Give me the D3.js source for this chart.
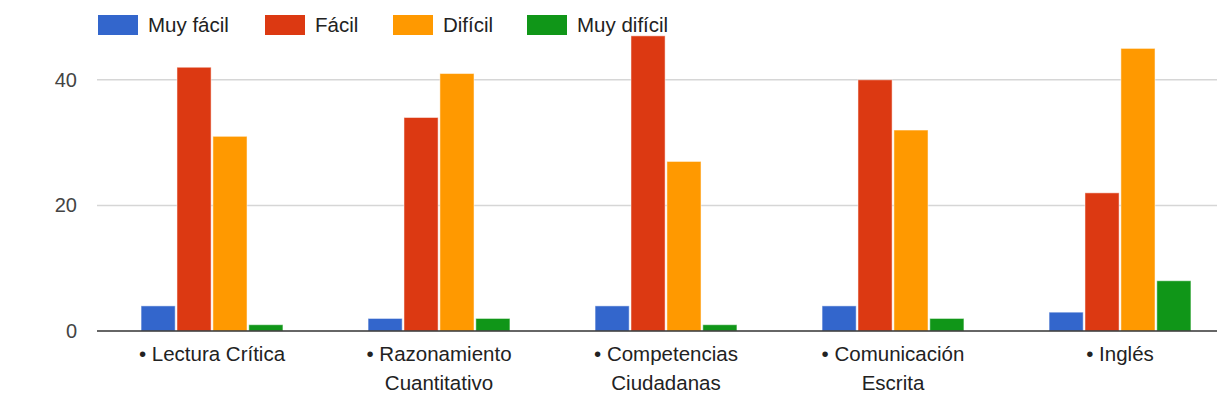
<!DOCTYPE html>
<html><head><meta charset="utf-8">
<script src="https://cdn.jsdelivr.net/npm/d3@7"></script>
<style>body{margin:0;background:#fff}svg{display:block;font-family:"Liberation Sans",Arial,sans-serif}</style>
</head><body>
<svg id="c" width="1217" height="412"></svg>
<script>
const categories = ["• Lectura Crítica", "• Razonamiento Cuantitativo", "• Competencias Ciudadanas", "• Comunicación Escrita", "• Inglés"];
const seriesNames = ["Muy fácil", "Fácil", "Difícil", "Muy difícil"];
const seriesColors = ["#3366cc", "#dc3912", "#ff9900", "#109618"];
const muyFacil = [4, 2, 4, 4, 3];
const facil = [42, 34, 47, 40, 22];
const dificil = [31, 41, 27, 32, 45];
const muyDificil = [1, 2, 1, 2, 8];
const yTicks = [0, 20, 40];

const seriesValues = [muyFacil, facil, dificil, muyDificil];
const svg = d3.select("#c");
const W = 1217;
const y = d3.scaleLinear().domain([0, 50]).range([331, 17]);
const x = d3.scaleBand().domain(categories).range([98.5, 1233.5]).paddingInner(0.375).paddingOuter(0.1875);
const xs = d3.scaleBand().domain(seriesNames).range([0, x.bandwidth()]).paddingInner(0.05);

// gridlines
svg.append("g").selectAll("line").data(yTicks.filter(t => t !== 0)).join("line")
  .attr("x1", 97).attr("x2", W).attr("y1", d => y(d)).attr("y2", d => y(d))
  .attr("stroke", "#d6d6d6").attr("stroke-width", 1.5);

// y labels
svg.append("g").selectAll("text").data(yTicks).join("text")
  .attr("x", 77).attr("y", d => y(d)).attr("dy", "0.35em").attr("text-anchor", "end")
  .attr("font-size", 20).attr("fill", "#444").text(d => d);

// bars
const groups = svg.append("g").selectAll("g").data(categories).join("g")
  .attr("transform", d => `translate(${x(d)},0)`);
groups.selectAll("rect").data((d, i) => seriesNames.map((s, j) => ({s, j, v: seriesValues[j][i]}))).join("rect")
  .attr("x", d => xs(d.s)).attr("width", xs.bandwidth())
  .attr("y", d => y(d.v)).attr("height", d => y(0) - y(d.v))
  .attr("fill", d => seriesColors[d.j]).attr("stroke", "#fff").attr("stroke-opacity", 0.5).attr("stroke-width", 1);

// baseline
svg.append("line").attr("x1", 97).attr("x2", W).attr("y1", y(0)).attr("y2", y(0))
  .attr("stroke", "#333").attr("stroke-width", 1.5);

// x labels with wrapping
const maxW = 180;
const lab = svg.append("g");
categories.forEach(c => {
  const cx = x(c) + x.bandwidth() / 2;
  const t = lab.append("text").attr("text-anchor", "middle").attr("font-size", 20.5).attr("fill", "#222")
    .attr("x", cx).attr("y", 361);
  const words = c.split(" ");
  let line = [];
  let ts = t.append("tspan").attr("x", cx).attr("dy", 0);
  words.forEach(w => {
    line.push(w);
    ts.text(line.join(" "));
    if (ts.node().getComputedTextLength() > maxW && line.length > 1) {
      line.pop();
      ts.text(line.join(" "));
      line = [w];
      ts = t.append("tspan").attr("x", cx).attr("dy", 29).text(w);
    }
  });
});

// legend
const legendX = [98, 265, 393, 527];
const lg = svg.append("g").selectAll("g").data(seriesNames).join("g")
  .attr("transform", (d, i) => `translate(${legendX[i]},15)`);
lg.append("rect").attr("width", 40).attr("height", 20).attr("fill", (d, i) => seriesColors[i]);
lg.append("text").attr("x", 50).attr("y", 10).attr("dy", "0.35em").attr("font-size", 20.5).attr("fill", "#222").text(d => d);
</script>
</body></html>
